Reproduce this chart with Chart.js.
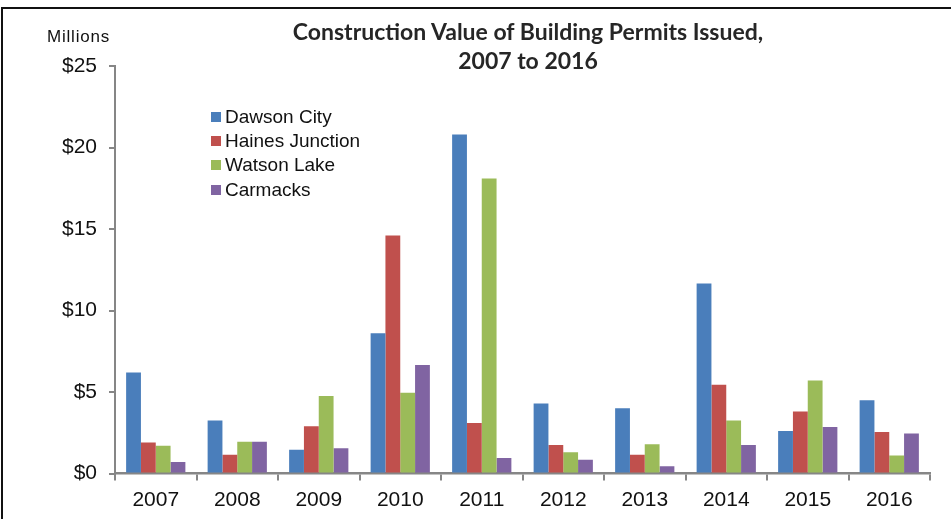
<!DOCTYPE html>
<html>
  <head>
    <title>Construction Value of Building Permits Issued</title>
    <script src="https://cdn.jsdelivr.net/npm/chart.js"></script>
    <style>
      body { margin: 0; background: #fff; overflow: hidden; }
      #wrap { position: relative; width: 951px; height: 519px; overflow: hidden; }
      #frame {
        position: absolute; left: 1px; top: 7px; width: 1000px; height: 600px;
        border-left: 2px solid #111; border-top: 2px solid #111;
      }
      #myChart { position: absolute; left: 0; top: 0; }
      #titre {
        position: absolute; left: 228px; top: 17px; width: 600px;
        text-align: center; font-family: Lato, sans-serif; font-weight: bold;
        font-size: 23px; line-height: 29px; color: #262626; letter-spacing: 0px;
      }
      #unita {
        position: absolute; left: 47px; top: 27px; letter-spacing: 0.8px;
        font-family: "Liberation Sans", Arial, sans-serif; font-size: 17px; color: #111;
      }
      #legenda {
        position: absolute; left: 211px; top: 105px;
        font-family: "Liberation Sans", Arial, sans-serif; font-size: 19px; color: #111;
      }
      #legenda div { height: 24.2px; line-height: 24px; white-space: nowrap; }
      #legenda span {
        display: inline-block; width: 10px; height: 10px; margin-right: 4px; vertical-align: 1px;
      }
    </style>
  </head>
  <body>
    <div id="wrap">
      <canvas id="myChart" width="951" height="519"></canvas>
      <div id="frame"></div>
      <div id="titre">Construction Value of Building Permits Issued,<br>2007 to 2016</div>
      <div id="unita">Millions</div>
      <div id="legenda"></div>
    </div>

<script>
// anni (asse x)
const anni = ["2007", "2008", "2009", "2010", "2011", "2012", "2013", "2014", "2015", "2016"];

// valori in milioni di $
const dawsonCity = [6.2, 3.25, 1.45, 8.6, 20.8, 4.3, 4.0, 11.65, 2.6, 4.5];
const hainesJunction = [1.9, 1.15, 2.9, 14.6, 3.1, 1.75, 1.15, 5.45, 3.8, 2.55];
const watsonLake = [1.7, 1.95, 4.75, 4.95, 18.1, 1.3, 1.8, 3.25, 5.7, 1.1];
const carmacks = [0.7, 1.95, 1.55, 6.65, 0.95, 0.85, 0.45, 1.75, 2.85, 2.45];

const nomiSerie = ["Dawson City", "Haines Junction", "Watson Lake", "Carmacks"];
const colori = ["#4a7ebb", "#c0504d", "#9bbb59", "#8064a2"];

// tick asse y
const tickY = [0, 5, 10, 15, 20, 25];

const valori = [dawsonCity, hainesJunction, watsonLake, carmacks];
const grigio = "#868686";

// legenda html
const legenda = document.getElementById("legenda");
nomiSerie.forEach((nome, i) => {
  const riga = document.createElement("div");
  riga.innerHTML = '<span style="background:' + colori[i] + '"></span>' + nome;
  legenda.appendChild(riga);
});

const ctx = document.getElementById("myChart").getContext("2d");
const chart = new Chart(ctx, {
  type: "bar",
  data: {
    labels: anni,
    datasets: valori.map((dati, i) => ({
      label: nomiSerie[i],
      data: dati,
      backgroundColor: colori[i],
      borderWidth: 0,
      barPercentage: 1,
      categoryPercentage: 0.727,
    })),
  },
  options: {
    responsive: false,
    animation: false,
    layout: { padding: { top: 66, right: 21, left: 0, bottom: 0 } },
    plugins: {
      legend: { display: false },
      title: { display: false },
      tooltip: { enabled: false },
    },
    scales: {
      x: {
        grid: {
          offset: true,
          drawOnChartArea: false,
          drawTicks: true,
          tickLength: 7,
          color: grigio,
          lineWidth: 2,
        },
        border: { color: grigio, width: 2.5 },
        ticks: {
          color: "#111",
          padding: 7,
          font: { family: "'Liberation Sans', Arial, sans-serif", size: 21 },
        },
        afterFit: (s) => { s.height = 45.5; },
      },
      y: {
        min: 0,
        max: 25,
        afterBuildTicks: (s) => { s.ticks = tickY.map((v) => ({ value: v })); },
        grid: {
          drawOnChartArea: false,
          drawTicks: true,
          tickLength: 6,
          color: grigio,
          lineWidth: 2,
        },
        border: { color: grigio, width: 2 },
        ticks: {
          color: "#111",
          padding: 12,
          font: { family: "'Liberation Sans', Arial, sans-serif", size: 21 },
          callback: (v) => "$" + v,
        },
        afterFit: (s) => { s.width = 115; },
      },
    },
  },
});
</script>
  </body>
</html>
